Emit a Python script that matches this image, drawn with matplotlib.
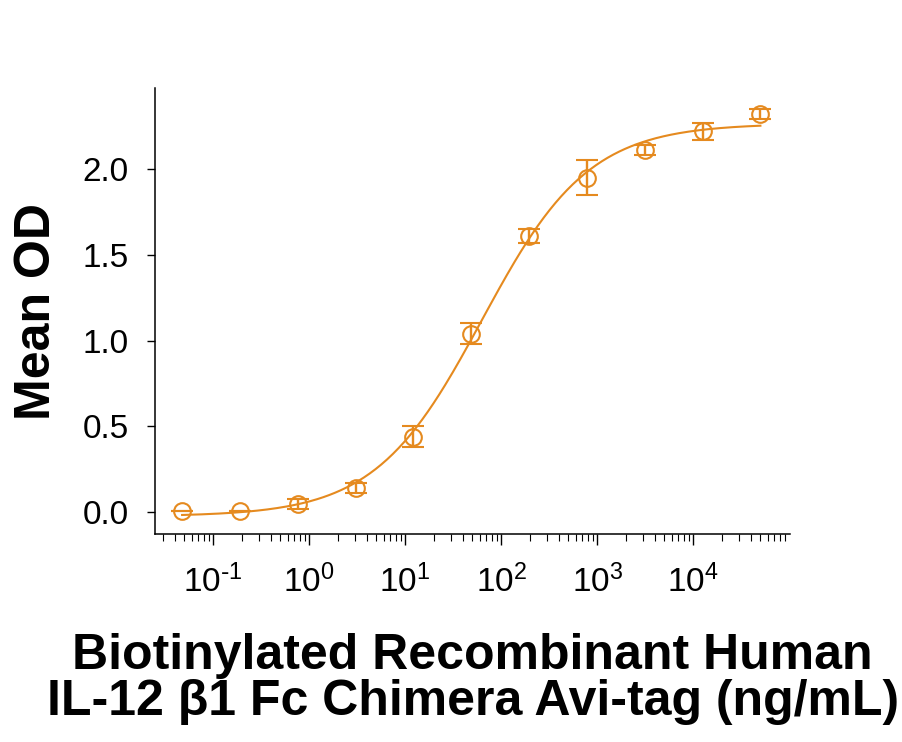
import numpy as np
import matplotlib
matplotlib.use("Agg")
import matplotlib.pyplot as plt
from matplotlib.ticker import LogLocator, NullFormatter, FixedLocator

plt.rcParams['font.family'] = ['Liberation Sans', 'DejaVu Sans']
plt.rcParams['mathtext.default'] = 'regular'

# data (4-fold dilution series, ng/mL)
conc = [0.0477, 0.191, 0.763, 3.05, 12.2, 48.8, 195, 781, 3125, 12500, 50000]
mean_od = [0.01, 0.01, 0.05, 0.14, 0.44, 1.04, 1.61, 1.95, 2.11, 2.22, 2.32]
od_err = [0.0, 0.0, 0.03, 0.03, 0.06, 0.06, 0.04, 0.10, 0.03, 0.05, 0.03]

y_ticks = [0.0, 0.5, 1.0, 1.5, 2.0]
x_ticks = [1e-1, 1e0, 1e1, 1e2, 1e3, 1e4]
x_ticklabels = [r"$10^{\text{-}1}$", "$10^{0}$", "$10^{1}$", "$10^{2}$", "$10^{3}$", "$10^{4}$"]

color = "#E58A1F"


def fit_4pl(x, y):
    # grid over EC50 and hill, bottom/top by linear least squares
    lx = np.log10(x)
    best = None
    for lec in np.linspace(0, 3.5, 351):
        for h in np.linspace(0.4, 2.0, 161):
            f = 1.0 / (1.0 + 10 ** ((lec - lx) * h))
            A = np.column_stack([1 - f, f])
            coef, *_ = np.linalg.lstsq(A, y, rcond=None)
            err = np.sum((A @ coef - y) ** 2)
            if best is None or err < best[0]:
                best = (err, coef[0], coef[1], lec, h)
    return best[1:]


x = np.array(conc)
y = np.array(mean_od)
bottom, top, lec, hill = fit_4pl(x, y)
xs = np.logspace(np.log10(x[0]), np.log10(x[-1]), 300)
ys = bottom + (top - bottom) / (1 + 10 ** ((lec - np.log10(xs)) * hill))

fig = plt.figure(figsize=(9.02, 7.42), dpi=100)
ax = fig.add_axes([0.172, 0.280, 0.704, 0.601])

ax.plot(xs, ys, color=color, lw=1.5)
ax.errorbar(x, y, yerr=od_err, fmt="o", mfc="none", mec=color, ecolor=color,
            ms=12, mew=1.5, elinewidth=1.7, capsize=8, capthick=1.7)

ax.set_xscale("log")
ax.set_xlim(0.025, 1.02e5)
ax.set_ylim(-0.128, 2.47)

ax.xaxis.set_major_locator(FixedLocator(x_ticks))
ax.set_xticklabels(x_ticklabels)
ax.xaxis.set_minor_locator(LogLocator(base=10, subs=np.arange(2, 10), numticks=20))
ax.xaxis.set_minor_formatter(NullFormatter())
ax.set_yticks(y_ticks)
ax.set_yticklabels([f"{v:.1f}" for v in y_ticks])

for s in ["top", "right"]:
    ax.spines[s].set_visible(False)
for s in ["left", "bottom"]:
    ax.spines[s].set_linewidth(1.1)

ax.tick_params(axis="y", direction="out", length=6, width=1.0, labelsize=24, pad=13)
ax.tick_params(axis="x", which="major", direction="out", length=8, width=1.0, labelsize=24, pad=14)
ax.tick_params(axis="x", which="minor", direction="out", length=5, width=0.8)

ax.set_ylabel("Mean OD", fontsize=36, fontweight="bold", labelpad=16)
ax.set_xlabel("Biotinylated Recombinant Human\nIL-12 \u03b21 Fc Chimera Avi-tag (ng/mL)",
              fontsize=36, fontweight="bold", labelpad=24, linespacing=1.02)

fig.savefig("out.png", dpi=100)
